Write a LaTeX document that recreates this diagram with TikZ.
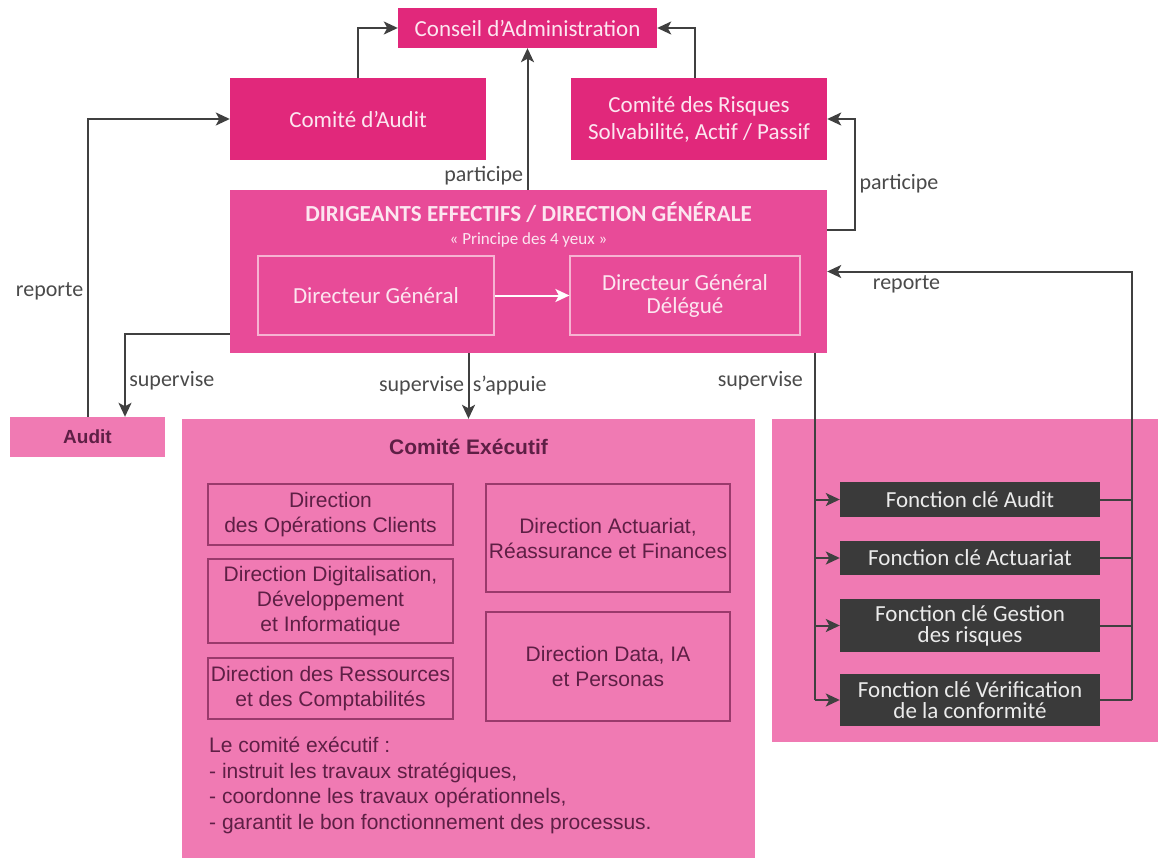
\documentclass[tikz,border=0pt]{standalone}
\usepackage{fontspec}
\setmainfont{Carlito}
\newfontfamily\arialfont{Liberation Sans}
\usetikzlibrary{positioning,arrows.meta}
\definecolor{cmag}{HTML}{E1287B}
\definecolor{cdir}{HTML}{E84B98}
\definecolor{cpink}{HTML}{F07AB3}
\definecolor{cdark}{HTML}{3A3A3A}
\definecolor{cplum}{HTML}{5E1F45}
\definecolor{cplumline}{HTML}{9A3A6C}
\definecolor{ctxt}{HTML}{FCE6F0}
\definecolor{cinner}{HTML}{F6B3D2}
\definecolor{cline}{HTML}{404040}
\definecolor{clbl}{HTML}{4A4A4A}

\begin{document}
\begin{tikzpicture}[x=1pt,y=-1pt,
	topbox/.style={
		fill=cmag,
		text=ctxt,
		align=center,
		inner sep=0pt,
		font=\fontsize{23}{27}\selectfont
	},
	innerbox/.style={
		draw=cinner,
		line width=1.2pt,
		text=ctxt,
		align=center,
		inner sep=0pt,
		minimum height=79pt,
		font=\fontsize{23}{23}\selectfont
	},
	dirbox/.style={
		draw=cplumline,
		line width=1.1pt,
		text=cplum,
		align=center,
		inner sep=0pt,
		font=\arialfont\fontsize{21}{25}\selectfont
	},
	fkbox/.style={
		fill=cdark,
		text=white!92!black,
		align=center,
		inner sep=0pt,
		minimum width=260pt,
		font=\fontsize{23}{21}\selectfont
	},
	lbl/.style={
		text=clbl,
		font=\fontsize{22}{26}\selectfont
	},
	link/.style={draw=cline, line width=2pt},
	arr/.style={link, -{Stealth[length=14pt,width=13pt,inset=3.5pt]}}
	]
	\useasboundingbox (0,0) rectangle (1158,861);

	\node[topbox, minimum width=259pt, minimum height=40pt] (conseil) at (527.5,28) {Conseil d’Administration};
	\node[topbox, minimum width=256pt, minimum height=82pt] (caudit) at (358,119) {Comité d’Audit};
	\node[topbox, minimum width=256pt, minimum height=82pt] (crisques) at (699,119) {Comité des Risques\\Solvabilité, Actif / Passif};

	\node[fill=cdir, minimum width=597pt, minimum height=163pt, inner sep=0pt] (dirig) at (528.5,271.5) {};
	\node[anchor=base, text=ctxt, inner sep=0pt, font=\bfseries\fontsize{23}{27}\selectfont] (dtitre) at (528.5,221) {DIRIGEANTS EFFECTIFS / DIRECTION GÉNÉRALE};
	\node[anchor=base, text=ctxt, inner sep=0pt, font=\fontsize{17}{20}\selectfont] (dsous) at (528.5,244) {« Principe des 4 yeux »};
	\node[innerbox, minimum width=236pt] (dg) at (376,295.5) {Directeur Général};
	\node[innerbox, minimum width=230pt] (dgd) at (685,295.5) {Directeur Général\\Délégué};
	\draw[white, line width=2pt, -{Stealth[length=14pt,width=13pt,inset=3.5pt]}] (dg) -- (dgd);

	\node[fill=cpink, minimum width=155pt, minimum height=40pt, text=cplum, font=\arialfont\bfseries\fontsize{19}{22}\selectfont] (audit) at (87.5,437) {Audit};

	\node[fill=cpink, minimum width=573pt, minimum height=439pt, inner sep=0pt] (comex) at (468.5,638.5) {};
	\node[anchor=base, text=cplum, inner sep=0pt, font=\arialfont\bfseries\fontsize{21}{24}\selectfont] (comtitre) at (468.5,454) {Comité Exécutif};
	\node[dirbox, minimum width=245pt, minimum height=61pt] (dopc) at (330.5,514.5) {Direction\\des Opérations Clients};
	\node[dirbox, minimum width=245pt, minimum height=84pt] (ddig) at (330.5,601) {Direction Digitalisation,\\Développement\\et Informatique};
	\node[dirbox, minimum width=245pt, minimum height=61pt] (dres) at (330.5,688.5) {Direction des Ressources\\et des Comptabilités};
	\node[dirbox, minimum width=244pt, minimum height=108pt] (dact) at (608,538) {Direction Actuariat,\\Réassurance et Finances};
	\node[dirbox, minimum width=244pt, minimum height=109pt] (ddata) at (608,666.5) {Direction Data, IA\\et Personas};
	\node[anchor=north west, align=left, text=cplum, inner sep=0pt, font=\arialfont\fontsize{21}{25.5}\selectfont] (comtexte) at (209,737) {Le comité exécutif :\\- instruit les travaux stratégiques,\\- coordonne les travaux opérationnels,\\- garantit le bon fonctionnement des processus.};

	\node[fill=cpink, minimum width=386pt, minimum height=323pt, inner sep=0pt] (fcles) at (965,580.5) {};
	\node[fkbox, minimum height=35pt] (fk1) at (970,499.5) {Fonction clé Audit};
	\node[fkbox, minimum height=34pt] (fk2) at (970,558) {Fonction clé Actuariat};
	\node[fkbox, minimum height=53pt] (fk3) at (970,625.5) {Fonction clé Gestion\\des risques};
	\node[fkbox, minimum height=52pt] (fk4) at (970,700) {Fonction clé Vérification\\de la conformité};

	\coordinate (busg) at ([xshift=-12pt]dirig.south east);
	\coordinate (busd) at ([xshift=305pt]dirig.east);

	\draw[arr] (caudit.north) |- (conseil.west);
	\draw[arr] ([xshift=-4pt]crisques.north) |- (conseil.east);
	\draw[arr] (conseil.south |- dirig.north) -- node[lbl, left, pos=0.1] {participe} (conseil.south);
	\draw[arr] (audit.north) |- node[lbl, left, pos=0.21] {reporte} (caudit.west);
	\draw[arr] ([yshift=19pt]dirig.south west) -| node[lbl, right, pos=0.78] {supervise} ([xshift=37.5pt]audit.north);
	\draw[arr] (comex.north |- dirig.south) -- node[lbl, left] {supervise} node[lbl, right] {s’appuie} (comex.north);
	\draw[arr] ([yshift=41.5pt]dirig.east) -- ++(28,0) |- node[lbl, right, pos=0.21] {participe} (crisques.east);

	\draw[link] (busg) -- node[lbl, left, pos=0.08, xshift=-8pt] {supervise} (busg |- fk4.west);
	\foreach \i in {1,...,4}
		\draw[arr] (busg |- fk\i.west) -- (fk\i.west);
	\foreach \i in {1,...,4}
		\draw[link] (fk\i.east) -- (busd |- fk\i.east);
	\draw[arr] (busd |- fk4.east) -- (busd) -- node[lbl, below, pos=0.74] {reporte} (dirig.east);
\end{tikzpicture}
\end{document}
